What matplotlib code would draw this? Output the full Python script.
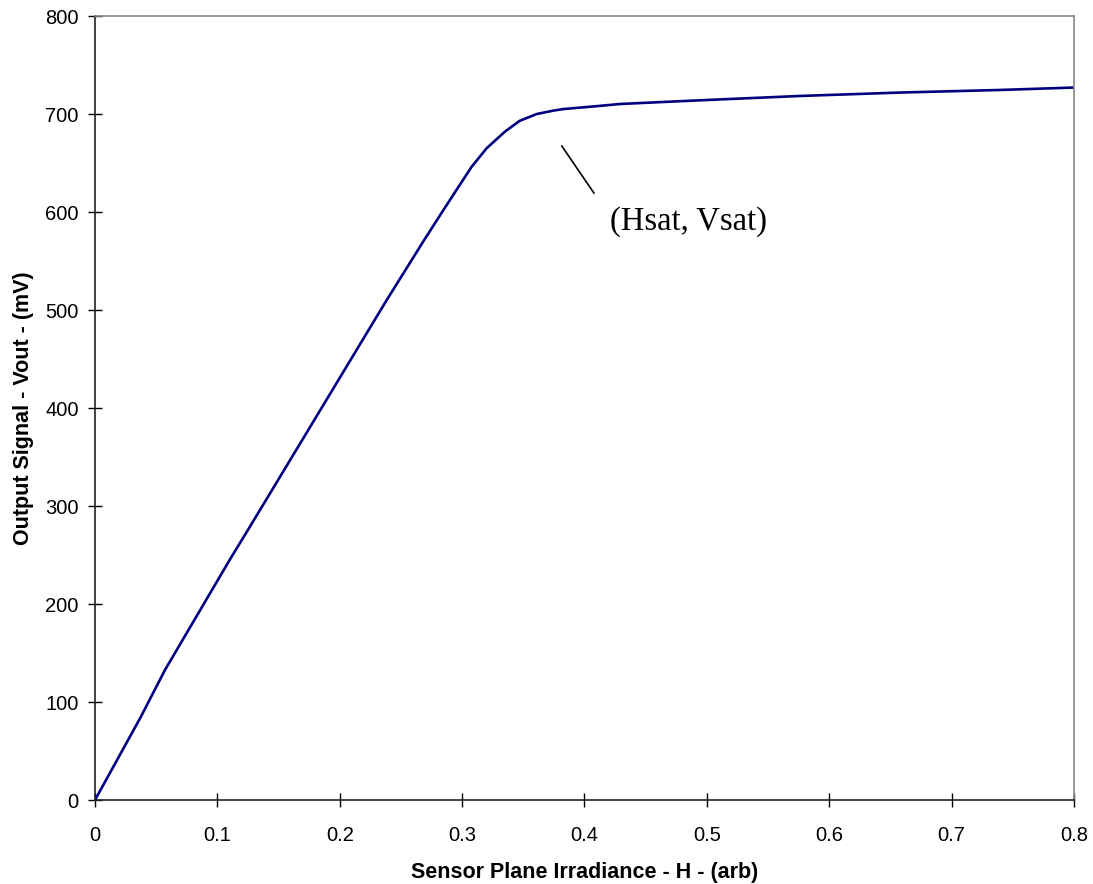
import matplotlib
matplotlib.use("Agg")
import matplotlib.pyplot as plt

# Data
irradiance = [0, 0.0368, 0.0572, 0.110, 0.1266, 0.189, 0.2383, 0.2683, 0.2847,
              0.3077, 0.32, 0.335, 0.347, 0.361, 0.3744, 0.3824, 0.41, 0.4289,
              0.47, 0.50, 0.576, 0.658, 0.739, 0.8]
vout = [0, 83.3, 132.7, 244.9, 278.9, 408, 510, 570, 602,
        646, 665, 682, 693, 700, 703.4, 705, 708, 710.2,
        712.6, 714.3, 718.4, 721.9, 724.5, 727]
x_ticks = [0, 0.1, 0.2, 0.3, 0.4, 0.5, 0.6, 0.7, 0.8]
y_ticks = [0, 100, 200, 300, 400, 500, 600, 700, 800]

plt.rcParams['font.family'] = ['Liberation Sans', 'DejaVu Sans']

fig = plt.figure(figsize=(10.93, 8.84), dpi=100)
ax = fig.add_axes([0.0869, 0.095, 0.8957, 0.8869])

ax.plot(irradiance, vout, color='#000080', linewidth=1.9, solid_joinstyle='round')

ax.set_xlim(0, 0.8)
ax.set_ylim(0, 800)
ax.set_xticks(x_ticks)
ax.set_xticklabels([f"{t:g}" for t in x_ticks])
ax.set_yticks(y_ticks)
ax.set_yticklabels([str(t) for t in y_ticks])
ax.tick_params(direction='inout', length=9.4, width=1, colors='black', labelsize=14.5)
ax.tick_params(axis='y', pad=7)
ax.tick_params(axis='x', pad=14)

for s in ['left', 'bottom']:
    ax.spines[s].set_color('#222222')
    ax.spines[s].set_linewidth(1.2)
for s in ['top', 'right']:
    ax.spines[s].set_color('#888888')
    ax.spines[s].set_linewidth(1.2)

ax.set_xlabel('Sensor Plane Irradiance - H - (arb)', fontsize=15.5, fontweight='bold', labelpad=12)
ax.set_ylabel('Output Signal - Vout - (mV)', fontsize=15.5, fontweight='bold', labelpad=8)

# annotation pointer and label
ax.plot([0.3815, 0.4077], [667.3, 619.4], color='black', linewidth=1.2)
ax.text(0.4206, 590, '(Hsat, Vsat)', fontsize=23.5, family=['Liberation Serif'],
        ha='left', va='center')

fig.savefig('out.png', dpi=100)
